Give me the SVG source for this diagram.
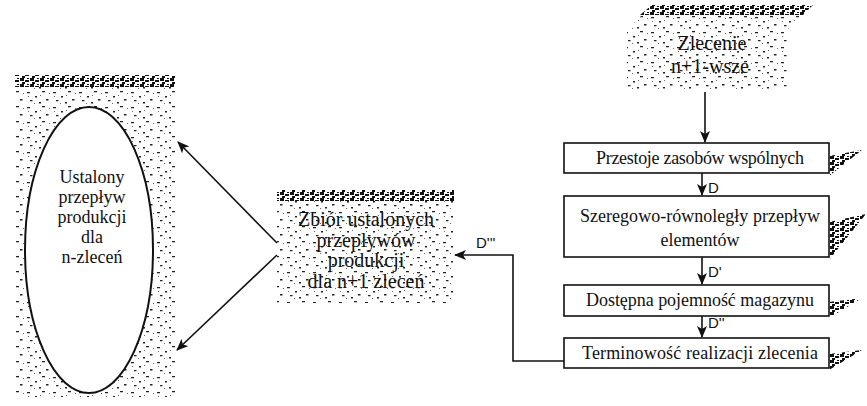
<svg xmlns="http://www.w3.org/2000/svg" width="867" height="406" viewBox="0 0 867 406">
<style>
.t{font-family:'Liberation Serif','DejaVu Serif','Times New Roman',serif;font-size:18px;fill:#111;text-anchor:middle}
.tb{font-size:20px}
.lb{font-family:'Liberation Sans','DejaVu Sans',Arial,sans-serif;font-size:15px;fill:#111}
.box{fill:#fff;stroke:#111;stroke-width:1.6}
.ln{fill:none;stroke:#111;stroke-width:1.6}
.shade{fill:url(#spk)}
.band{fill:url(#dark)}
</style>
<defs>
<pattern id="spk" width="26" height="15" patternUnits="userSpaceOnUse">
<rect width="26" height="15" fill="#fff"/>
<path d="M1 2h3v1.3h-3z M9 6h2v1.6h-2z M16 1h3v1.3h-3z M20 9h2.5v1.6h-2.5z M4 10h2.5v1.2h-2.5z M13 12h2v1.5h-2z" fill="#222"/>
<path d="M2 6h1v1h-1z M14 5h1v1h-1z M23 3h1v1h-1z M8 13h1v1h-1z" fill="#666"/>
</pattern>
<pattern id="dark" width="10" height="6" patternUnits="userSpaceOnUse">
<rect width="10" height="6" fill="#fff"/>
<path d="M0 0h4v3h-4z M5 2h4v2h-4z M2 4h3v2h-3z M7 0h2v1h-2z" fill="#111"/>
</pattern>
<marker id="ah" markerWidth="12" markerHeight="10" refX="11" refY="5" orient="auto" markerUnits="userSpaceOnUse">
<path d="M0,0 L12,5 L0,10 L3,5 z" fill="#111"/>
</marker>
</defs>

<g id="n-ustalony">
<rect class="shade" x="15" y="75" width="160" height="322"/>
<rect class="band" x="15" y="75" width="160" height="12"/>
<ellipse cx="89" cy="250" rx="64" ry="143" fill="#fff" stroke="#111" stroke-width="2"/>
<text class="t" x="92" y="183">Ustalony</text>
<text class="t" x="92" y="203">przepływ</text>
<text class="t" x="92" y="223">produkcji</text>
<text class="t" x="92" y="243">dla</text>
<text class="t" x="92" y="263">n-zleceń</text>
</g>

<g id="n-zbior">
<rect class="shade" x="277" y="190" width="177" height="113"/>
<rect class="band" x="277" y="190" width="177" height="11"/>
<text class="t tb" x="366" y="226">Zbiór ustalonych</text>
<text class="t tb" x="366" y="247">przepływów</text>
<text class="t tb" x="366" y="267">produkcji</text>
<text class="t tb" x="366" y="288">dla n+1 zleceń</text>
</g>

<g id="n-zlecenie">
<polygon class="shade" points="652,5 813,5 787,30 787,90 627,90 627,30"/>
<polygon class="band" points="652,5 813,5 803,15 640,15"/>
<text class="t tb" x="712" y="50">Zlecenie</text>
<text class="t tb" x="710" y="73">n+1-wsze</text>
</g>

<g id="n-przestoje">
<polygon class="band" points="829,156 862,150 829,176"/>
<rect class="box" x="564" y="143" width="265" height="30"/>
<text class="t" x="700" y="164" textLength="208">Przestoje zasobów wspólnych</text>
</g>

<g id="n-szeregowo">
<polygon class="band" points="829,222 866,214 829,260"/>
<rect class="box" x="564" y="196" width="265" height="61"/>
<text class="t" x="700" y="222" textLength="240">Szeregowo-równoległy przepływ</text>
<text class="t" x="700" y="246">elementów</text>
</g>

<g id="n-dostepna">
<polygon class="band" points="829,302 862,298 829,318"/>
<rect class="box" x="564" y="285" width="265" height="31"/>
<text class="t" x="700" y="306" textLength="228">Dostępna pojemność magazynu</text>
</g>

<g id="n-terminowosc">
<polygon class="band" points="829,354 862,350 829,370"/>
<rect class="box" x="564" y="338" width="265" height="30"/>
<text class="t" x="700" y="359" textLength="236">Terminowość realizacji zlecenia</text>
</g>

<g id="connectors">
<line class="ln" x1="705" y1="92" x2="705" y2="142" marker-end="url(#ah)"/>
<line class="ln" x1="702" y1="173" x2="702" y2="195" marker-end="url(#ah)"/>
<line class="ln" x1="702" y1="257" x2="702" y2="284" marker-end="url(#ah)"/>
<line class="ln" x1="702" y1="316" x2="702" y2="337" marker-end="url(#ah)"/>
<polyline class="ln" points="564,361 513,361 513,255 455,255" marker-end="url(#ah)"/>
<line class="ln" x1="277" y1="243" x2="178" y2="142" marker-end="url(#ah)"/>
<line class="ln" x1="277" y1="255" x2="177" y2="350" marker-end="url(#ah)"/>
<text class="lb" x="708" y="193">D</text>
<text class="lb" x="708" y="277">D'</text>
<text class="lb" x="708" y="328">D''</text>
<text class="lb" x="476" y="248">D'''</text>
</g>
</svg>
